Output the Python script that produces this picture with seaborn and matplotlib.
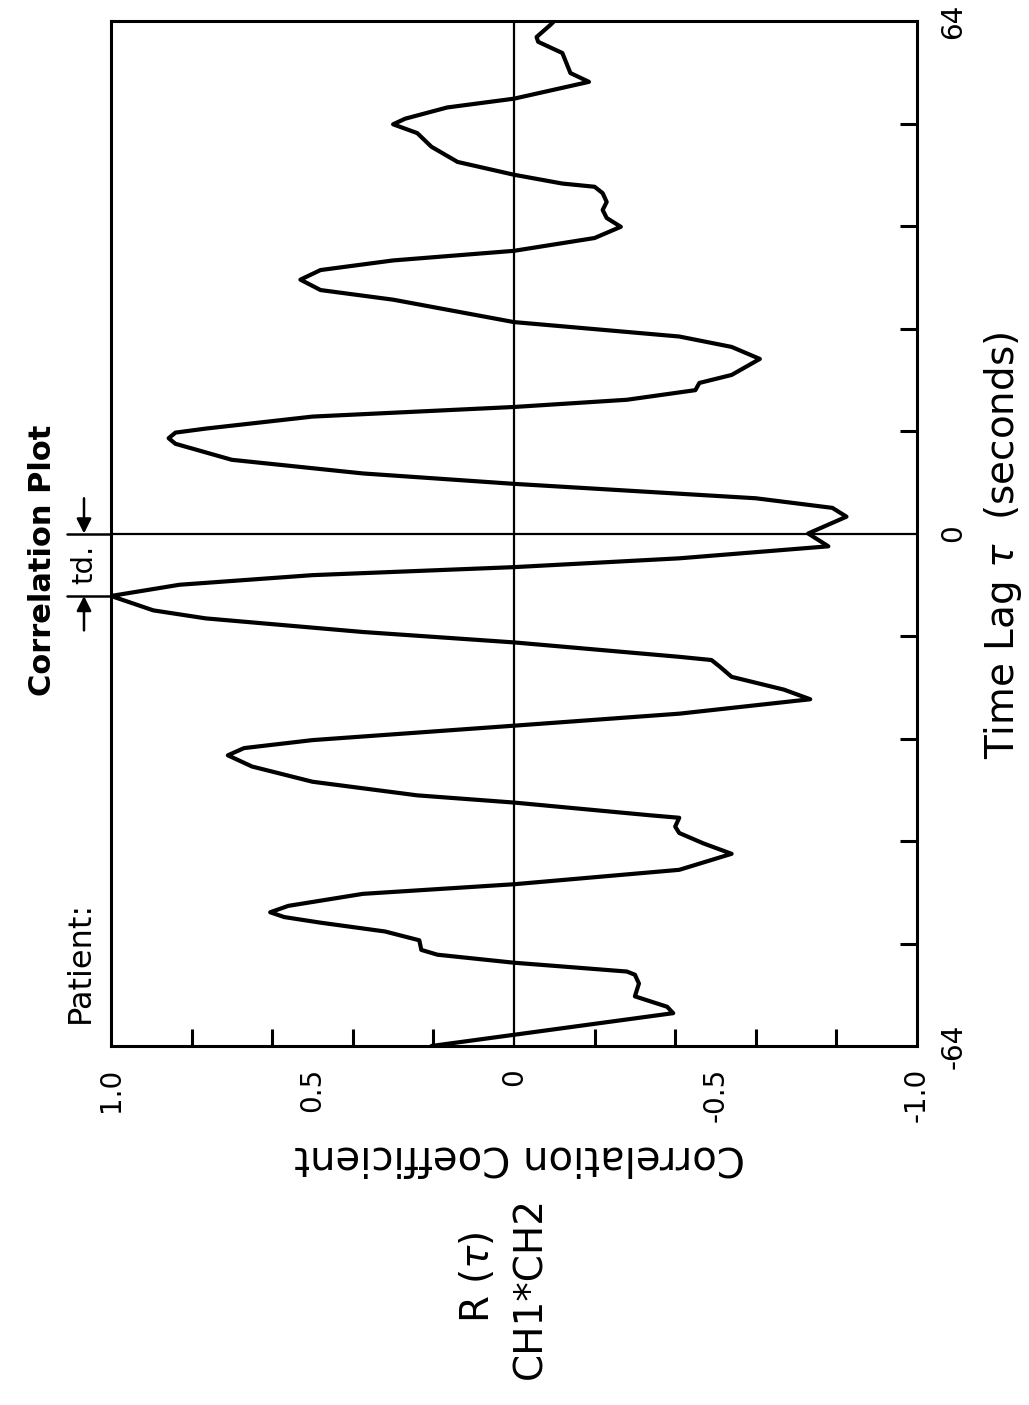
import numpy as np
import pandas as pd
import matplotlib
matplotlib.use('Agg')
import matplotlib.pyplot as plt
import seaborn as sns

# time lag (s) and correlation R(tau)
tau = [-64.0, -59.9, -59.1, -57.8, -56.2, -55.1, -54.7, -53.6, -52.6, -52.0,
       -50.8, -49.7, -48.6, -47.9, -47.3, -46.5, -45.0, -43.8, -42.0, -40.0,
       -38.7, -37.4, -36.6, -35.5, -35.2, -33.6, -32.7, -31.0, -29.1, -27.7,
       -26.8, -25.8, -24.0, -22.5, -20.7, -19.5, -17.9, -16.6, -15.8, -15.4,
       -13.6, -12.3, -10.6, -9.6, -7.8, -6.4, -5.2, -4.2, -3.1, -1.6,
       0.0, 2.1, 3.2, 4.4, 6.2, 7.5, 9.2, 11.2, 11.9, 12.6, 13.1, 14.6,
       15.8, 16.7, 17.9, 18.8, 19.8, 21.8, 23.3, 24.6, 26.4, 29.2,
       30.4, 31.7, 32.9, 34.1, 35.3, 36.9, 38.3, 39.4, 40.4, 41.4,
       42.5, 43.3, 43.7, 44.8, 46.4, 48.3, 50.0, 51.1, 51.8, 53.2,
       54.3, 56.4, 57.5, 60.0, 61.4, 62.0, 63.5, 64.0]
corr = [0.205, -0.395, -0.38, -0.30, -0.31, -0.30, -0.28, 0.0, 0.19, 0.23,
        0.235, 0.32, 0.48, 0.57, 0.605, 0.56, 0.375, 0.0, -0.41, -0.54,
        -0.47, -0.41, -0.40, -0.41, -0.34, 0.0, 0.24, 0.50, 0.65, 0.71,
        0.67, 0.50, 0.0, -0.41, -0.735, -0.67, -0.54, -0.51, -0.49, -0.41,
        0.0, 0.375, 0.765, 0.895, 1.0, 0.83, 0.50, 0.0, -0.41, -0.78,
        -0.73, -0.825, -0.79, -0.60, 0.0, 0.375, 0.70, 0.84, 0.857, 0.84, 0.765, 0.50,
        0.0, -0.28, -0.45, -0.46, -0.54, -0.61, -0.54, -0.41, 0.0, 0.30,
        0.48, 0.53, 0.48, 0.30, 0.0, -0.20, -0.265, -0.23, -0.22, -0.23,
        -0.22, -0.20, -0.12, 0.0, 0.14, 0.205, 0.24, 0.30, 0.27, 0.166,
        0.0, -0.186, -0.14, -0.12, -0.06, -0.056, -0.09, -0.10]

corr_labels = ['1.0', '0.5', '0', '-0.5', '-1.0']
corr_label_pos = [1.0, 0.5, 0.0, -0.5, -1.0]
corr_minor = [0.8, 0.6, 0.4, 0.2, -0.2, -0.4, -0.6, -0.8]
tau_labels = ['-64', '0', '64']
tau_label_pos = [-64, 0, 64]
tau_minor = [-51.2, -38.4, -25.6, -12.8, 12.8, 25.6, 38.4, 51.2]

df = pd.DataFrame({'tau': tau, 'corr': corr})

sns.set_style('white')
plt.rcParams['font.family'] = ['DejaVu Sans']
plt.rcParams['text.color'] = 'black'
plt.rcParams['xtick.color'] = 'black'
plt.rcParams['ytick.color'] = 'black'

W, H = 1029, 1405
fig = plt.figure(figsize=(W / 100, H / 100), dpi=100, facecolor='white')

def fx(px):
    return px / W

def fy(py):
    return 1 - py / H

# page is turned on its side: time runs up the page, R(tau) runs right-to-left
ax = fig.add_axes([fx(111), fy(1046), fx(917) - fx(111), fy(21) - fy(1046)])
sns.lineplot(data=df, x='corr', y='tau', sort=False, estimator=None, orient='y',
             color='black', linewidth=3.0, ax=ax)
for ln in ax.get_lines():
    ln.set_solid_joinstyle('round')
ax.axvline(0, color='black', linewidth=1.6, zorder=1)
ax.axhline(0, color='black', linewidth=1.6, zorder=1)
ax.set_xlim(1.0, -1.0)
ax.set_ylim(-64, 64)
ax.set_xlabel('')
ax.set_ylabel('')

for s in ax.spines.values():
    s.set_linewidth(2.2)
    s.set_color('black')

ax.set_xticks(corr_label_pos)
ax.set_xticklabels(corr_labels, rotation=90, fontsize=20, va='top')
ax.set_xticks(corr_minor, minor=True)
ax.tick_params(axis='x', which='major', length=0, pad=16)
ax.tick_params(axis='x', which='minor', direction='in', length=12, width=2.2,
               bottom=True, top=False)

ax.yaxis.tick_right()
ax.set_yticks(tau_label_pos)
ax.set_yticklabels(tau_labels, rotation=90, fontsize=20, va='center')
ax.set_yticks(tau_minor, minor=True)
ax.tick_params(axis='y', which='major', length=0, pad=16)
ax.tick_params(axis='y', which='minor', direction='in', length=12, width=2.2,
               right=True, left=False)

# td marker: lag of the main peak
td = tau[corr.index(max(corr))]
for t in (0.0, td):
    ax.plot([1.11, 1.0], [t, t], color='black', linewidth=1.8, clip_on=False)
ax.annotate('', xy=(1.067, 0.0), xytext=(1.067, 4.4), annotation_clip=False,
            arrowprops=dict(arrowstyle='-|>', color='black', lw=1.8,
                            mutation_scale=22, shrinkA=0, shrinkB=0))
ax.annotate('', xy=(1.067, td), xytext=(1.067, td - 4.3), annotation_clip=False,
            arrowprops=dict(arrowstyle='-|>', color='black', lw=1.8,
                            mutation_scale=22, shrinkA=0, shrinkB=0))
ax.text(1.067, td / 2, 'td.', rotation=90, fontsize=21, ha='center', va='center',
        clip_on=False)

fig.text(fx(1003), fy(545), r'Time Lag $\tau$  (seconds)', rotation=90,
         fontsize=28, ha='center', va='center')
fig.text(fx(520), fy(1157), 'Correlation Coefficient', rotation=180,
         fontsize=29, ha='center', va='center')
fig.text(fx(80), fy(962), 'Patient:', rotation=90, fontsize=23,
         ha='center', va='center')
fig.text(fx(43), fy(560), 'Correlation Plot', rotation=90, fontsize=22,
         fontweight='bold', ha='center', va='center')
fig.text(fx(477), fy(1277), r'R ($\tau$)', rotation=90, fontsize=28,
         ha='center', va='center')
fig.text(fx(530), fy(1288), 'CH1*CH2', rotation=90, fontsize=28,
         ha='center', va='center')

fig.savefig('out.png', dpi=100, facecolor='white')
